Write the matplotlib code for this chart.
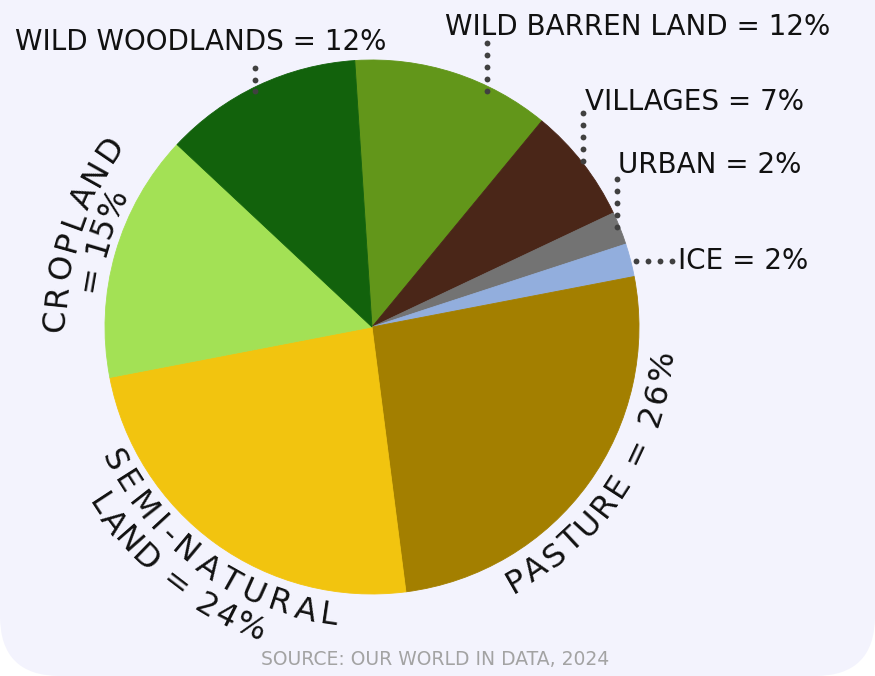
import matplotlib
matplotlib.use("Agg")
import matplotlib.pyplot as plt
import numpy as np
from matplotlib.patches import FancyBboxPatch
from matplotlib.font_manager import FontProperties

# ---- data ----
categories = ["Wild barren land", "Villages", "Urban", "Ice", "Pasture",
              "Semi-natural land", "Cropland", "Wild woodlands"]
shares = [12, 7, 2, 2, 26, 24, 15, 12]
colors = ["#62961a", "#4a2618", "#737373", "#92aedd", "#a37f00",
          "#f2c40f", "#a3e155", "#12620c"]
source = "SOURCE: OUR WORLD IN DATA, 2024"

FONT = "DejaVu Sans"
W, H = 875, 676
CX, CY, R = 372, H - 327, 267

fig = plt.figure(figsize=(W / 100, H / 100), dpi=100, facecolor="white")
ax = fig.add_axes([0, 0, 1, 1])
ax.set_axis_off()

bg = FancyBboxPatch((0, 0), W, H + 200, boxstyle="round,pad=0,rounding_size=60",
                    fc="#f3f3fd", ec="none", zorder=0)
ax.add_patch(bg)

wedges, _ = ax.pie(shares, colors=colors, startangle=93.7, counterclock=False,
                   center=(CX, CY), radius=R, wedgeprops=dict(linewidth=0))
for w in wedges:
    w.set_edgecolor(w.get_facecolor())
    w.set_linewidth(0.6)
    w.set_zorder(2)
ax.set_xlim(0, W)
ax.set_ylim(0, H)
ax.set_aspect("auto")

renderer = fig.canvas.get_renderer()


def char_w(ch, prop, px):
    if ch == " ":
        return 0.35 * px
    return renderer.get_text_width_height_descent(ch, prop, ismath=False)[0]


def arc_text(text, r_c, mid_deg, span_deg, outward, size, color="#111111"):
    prop = FontProperties(family=FONT, size=size)
    px = size * 100 / 72.0
    cap = 0.729 * px
    ws = np.array([char_w(c, prop, px) for c in text])
    n = len(text)
    natural = ws.sum() - ws[0] / 2 - ws[-1] / 2
    target = r_c * np.radians(span_deg)
    t = (target - natural) / (n - 1)
    pos = np.concatenate([[0], np.cumsum(ws[:-1] / 2 + ws[1:] / 2 + t)])
    pos = pos - pos[-1] / 2
    for ch, p in zip(text, pos):
        if ch == " ":
            continue
        off = np.degrees(p / r_c)
        if outward:
            th = mid_deg - off
            rot = th - 90
            rb = r_c - cap / 2
        else:
            th = mid_deg + off
            rot = th + 90
            rb = r_c + cap / 2
        x = CX + rb * np.cos(np.radians(th))
        y = CY + rb * np.sin(np.radians(th))
        ax.text(x, y, ch, fontproperties=prop, color=color, rotation=rot,
                rotation_mode="anchor", ha="center", va="baseline", zorder=5)


CURVE_SIZE = 23
arc_text("CROPLAND", 319, 162.3, 33.3, True, CURVE_SIZE)
arc_text("= 15%", 289, 162.4, 15.5, True, CURVE_SIZE)
arc_text("PASTURE = 26%", 290, -34.0, 52.7, False, CURVE_SIZE)
arc_text("SEMI-NATURAL", 289, 234.5, 54.2, False, CURVE_SIZE)
arc_text("LAND = 24%", 322, 230.5, 34.7, False, CURVE_SIZE)

# straight labels
LABEL_SIZE = 20
straight = [
    ("WILD WOODLANDS = 12%", 15, 50),
    ("WILD BARREN LAND = 12%", 445, 35),
    ("VILLAGES = 7%", 585, 110),
    ("URBAN = 2%", 618, 173),
    ("ICE = 2%", 678, 269),
]
for s, x, yp in straight:
    ax.text(x, H - yp, s, family=FONT, fontsize=LABEL_SIZE, color="#111111",
            ha="left", va="baseline", zorder=5)

# dotted leaders
DOT = "#404040"
leaders = [
    ([255, 255], [68, 91], 3),
    ([487, 487], [43, 91], 5),
    ([583, 583], [113, 161], 5),
    ([617, 617], [179, 227], 5),
    ([636, 672], [261, 261], 4),
]
for xs, ys, n in leaders:
    lx = np.linspace(xs[0], xs[1], n)
    ly = H - np.linspace(ys[0], ys[1], n)
    ax.plot(lx, ly, linestyle="none", marker="o", markersize=4.2,
            color=DOT, markeredgewidth=0, zorder=6)

ax.text(435, H - 665, source, family=FONT, fontsize=13.5, color="#a3a3a3",
        ha="center", va="baseline", zorder=5)

fig.savefig("out.png", dpi=100, facecolor="white")
